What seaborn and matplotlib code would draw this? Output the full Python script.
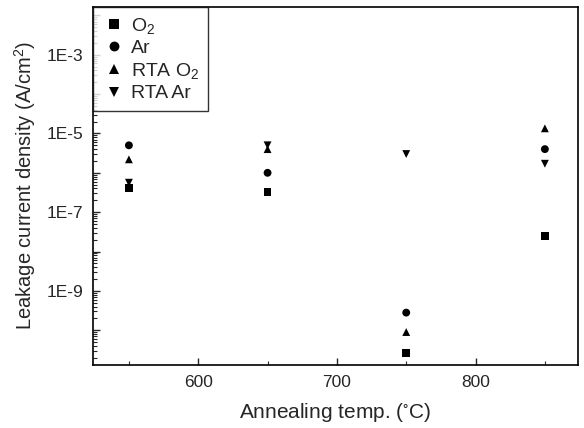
import numpy as np
import pandas as pd
import matplotlib
matplotlib.use("Agg")
import matplotlib.pyplot as plt
import matplotlib.ticker as mticker
import seaborn as sns

# annealing temperatures (C)
temps = [550, 650, 750, 850]

# leakage current density (A/cm^2)
o2 = [4.2e-7, 3.3e-7, 2.6e-11, 2.5e-8]
ar = [5.0e-6, 1.0e-6, 2.8e-10, 4.0e-6]
rta_o2 = [2.2e-6, 4.0e-6, 9.0e-11, 1.35e-5]
rta_ar = [5.6e-7, 5.0e-6, 3.0e-6, 1.7e-6]

labels = ["O$_2$", "Ar", "RTA O$_2$", "RTA Ar"]
series = [o2, ar, rta_o2, rta_ar]

rows = []
for lab, vals in zip(labels, series):
    for t, v in zip(temps, vals):
        rows.append({"temp": t, "J": v, "series": lab})
df = pd.DataFrame(rows)

sns.set_style("white")
plt.rcParams["font.family"] = ["Liberation Sans", "DejaVu Sans"]
plt.rcParams["mathtext.default"] = "regular"

fig = plt.figure(figsize=(5.84, 4.28), dpi=100)
ax = fig.add_axes([0.159, 0.147, 0.831, 0.837])

marker_map = {"O$_2$": "s", "Ar": "o", "RTA O$_2$": "^", "RTA Ar": "v"}
sns.scatterplot(data=df, x="temp", y="J", style="series", markers=marker_map,
                color="black", s=32, edgecolor="black", linewidth=0,
                style_order=labels, ax=ax)

ax.set_yscale("log")
ax.set_xlim(524, 874)
ax.set_ylim(1.3e-11, 1.65e-2)

ax.xaxis.set_major_locator(mticker.FixedLocator([600, 700, 800]))
ax.xaxis.set_minor_locator(mticker.FixedLocator([550, 650, 750, 850]))
ax.yaxis.set_major_locator(mticker.LogLocator(base=10, numticks=20))
ax.yaxis.set_minor_locator(mticker.LogLocator(base=10, subs=np.arange(2, 10), numticks=20))


def fmt(v, pos):
    e = int(round(np.log10(v)))
    if e in (-3, -5, -7, -9):
        return "1E%d" % e
    return ""


ax.yaxis.set_major_formatter(mticker.FuncFormatter(fmt))
ax.yaxis.set_minor_formatter(mticker.NullFormatter())

ax.tick_params(which="major", direction="in", length=5, width=1, labelsize=12.5,
               bottom=True, left=True, top=False, right=False)
ax.tick_params(axis="x", which="major", pad=7)
ax.tick_params(axis="y", which="major", pad=7)
ax.tick_params(which="minor", direction="in", length=3, width=0.8,
               bottom=True, left=True, top=False, right=False)

for sp in ax.spines.values():
    sp.set_color("black")
    sp.set_linewidth(1.2)

ax.set_xlabel("Annealing temp. ($^{\\circ}$C)", fontsize=15, labelpad=8)
ax.set_ylabel("Leakage current density (A/cm$^2$)", fontsize=14.5, labelpad=6)

leg = ax.legend(loc="upper left", frameon=True, fancybox=False, fontsize=14,
                borderaxespad=0, handletextpad=0.2, labelspacing=0.2,
                markerscale=1.25, borderpad=0.45, handlelength=1.3)
leg.get_frame().set_edgecolor("black")
leg.get_frame().set_linewidth(1.0)

fig.savefig("out.png", dpi=100)
